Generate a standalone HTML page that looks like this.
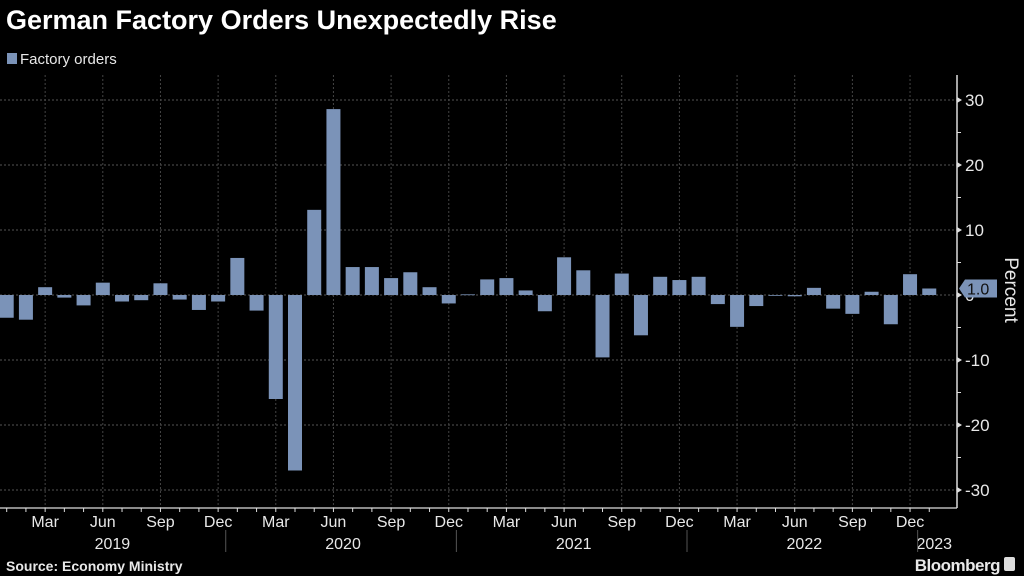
<!DOCTYPE html>
<html><head><meta charset="utf-8">
<style>
html,body{margin:0;padding:0;background:#000;width:1024px;height:576px;overflow:hidden}
svg{display:block}
text{font-family:"Liberation Sans Narrow","Liberation Sans",sans-serif;fill:#e8e8e8}
</style></head><body>
<svg id="chart" width="1024" height="576" viewBox="0 0 1024 576">
<text x="6" y="29" style="font-family:'Liberation Sans',sans-serif;font-weight:bold;font-size:27px;fill:#fff">German Factory Orders Unexpectedly Rise</text>
<rect x="7" y="53" width="10" height="11" fill="#7b93b8"/>
<text x="20" y="64" font-size="15" fill="#ccc">Factory orders</text>
<g id="grid"></g>
<g id="bars"></g>
<g id="axes"></g>
<text x="6" y="571" style="font-family:'Liberation Sans',sans-serif;font-weight:bold;font-size:14px">Source: Economy Ministry</text>
<text x="1000" y="571" text-anchor="end" style="font-family:'Liberation Sans',sans-serif;font-weight:bold;font-size:17px;letter-spacing:-0.5px">Bloomberg</text>
<rect x="1004" y="557" width="11" height="14" rx="2" fill="#ddd"/>
</svg>
<script>
const values=[-3.5,-3.8,1.2,-0.4,-1.6,1.9,-1.0,-0.8,1.8,-0.7,-2.3,-1.0,
5.7,-2.4,-16.0,-27.0,13.1,28.6,4.3,4.3,2.6,3.5,1.2,-1.3,
0.1,2.4,2.6,0.7,-2.5,5.8,3.8,-9.6,3.3,-6.2,2.8,2.3,
2.8,-1.4,-4.9,-1.7,-0.1,-0.2,1.1,-2.1,-2.9,0.5,-4.5,3.2,
1.0];
const yTicks=[30,20,10,0,-10,-20,-30];
const monthLabels=["Mar","Jun","Sep","Dec"];
const years=["2019","2020","2021","2022","2023"];
const lastLabel="1.0";

const NS="http://www.w3.org/2000/svg";
const x0=6.7, step=19.22, barW=14;
const X=i=>x0+i*step;
const Y=v=>295-v*6.5;
const axisX=957, bottomY=508;
function el(t,a,p){const e=document.createElementNS(NS,t);for(const k in a)e.setAttribute(k,a[k]);p.appendChild(e);return e;}
const grid=document.getElementById('grid'),bars=document.getElementById('bars'),axes=document.getElementById('axes');
yTicks.forEach(v=>{
  const g=el('line',{x1:0,x2:axisX,y1:Y(v),y2:Y(v),stroke:'#555','stroke-dasharray':'2,2','stroke-width':1},grid);
  
  
  const t=el('text',{x:axisX+8,y:Y(v)+6,'font-size':17},axes);
  t.textContent=v;
  
  
  el('path',{d:`M${axisX} ${Y(v)-3}L${axisX+5} ${Y(v)}L${axisX} ${Y(v)+3}Z`,fill:'#ddd'},axes);
  if(v>-30) el('line',{x1:axisX,x2:axisX+4,y1:Y(v-5),y2:Y(v-5),stroke:'#ddd'},axes);
});
for(let i=2;i<values.length;i+=3){
  const g=el('line',{x1:X(i),x2:X(i),y1:75,y2:bottomY,stroke:'#444','stroke-dasharray':'2,2'},grid);
  
  
}
values.forEach((v,i)=>{
  const r=el('rect',{x:X(i)-barW/2,y:Math.min(Y(v),Y(0)),width:barW,height:Math.max(Math.abs(Y(v)-Y(0)),0.8),fill:'#7b93b8'},bars);
  
  
});
el('line',{x1:axisX,x2:axisX,y1:75,y2:bottomY,stroke:'#ddd','stroke-width':1.5},axes);
el('line',{x1:0,x2:axisX,y1:bottomY,y2:bottomY,stroke:'#ddd','stroke-width':1.2},axes);
for(let i=0;i<values.length;i++) el('line',{x1:X(i),x2:X(i),y1:bottomY,y2:bottomY+4,stroke:'#ddd'},axes);
for(let i=2;i<values.length;i+=3){
  const t=el('text',{x:X(i),y:527,'font-size':16,'text-anchor':'middle'},axes);
  t.textContent=monthLabels[((i-2)/3)%4];
  
  
}
years.forEach((y,k)=>{
  const cx=k<4?X(k*12+5.5):X(48)+5;
  const t=el('text',{x:cx,y:549,'font-size':16,'text-anchor':'middle'},axes);
  t.textContent=y;
  
  
  if(k>0) el('line',{x1:X(k*12)-step/2-2,x2:X(k*12)-step/2-2,y1:530,y2:552,stroke:'#555'},axes);
});
const ly=Y(values[values.length-1]);
const b=el('path',{d:`M${axisX+2} ${ly}L${axisX+8} ${ly-9}H${axisX+40}V${ly+9}H${axisX+8}Z`,fill:'#7b93b8'},axes);


const lt=el('text',{x:axisX+10,y:ly+6,'font-size':16,fill:'#000'},axes);
lt.textContent=lastLabel;
lt.setAttribute('style','fill:#111');


const yt=el('text',{x:1005,y:290,'font-size':19,transform:'rotate(90 1005 290)','text-anchor':'middle'},axes);
yt.textContent='Percent';


</script>
</body></html>
